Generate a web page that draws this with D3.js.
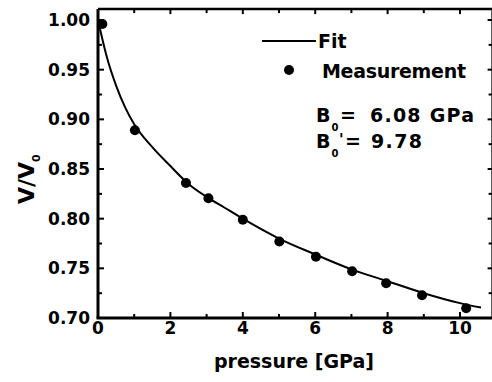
<!DOCTYPE html>
<html><head><meta charset="utf-8">
<script src="https://cdn.jsdelivr.net/npm/d3@7"></script>
<style>html,body{margin:0;padding:0;background:#fff;}svg{display:block;}text{font-family:"DejaVu Sans",sans-serif;font-weight:bold;fill:#000;}</style>
</head><body>
<svg id="c" width="492" height="382"></svg>
<script>
const measP = [0.12, 1.02, 2.43, 3.05, 4.0, 5.01, 6.02, 7.02, 7.96, 8.95, 10.17];
const measV = [0.996, 0.889, 0.836, 0.8205, 0.799, 0.777, 0.7617, 0.747, 0.735, 0.7229, 0.7098];
const fitP = [0, 0.1, 0.25, 0.5, 0.75, 1.0, 1.5, 2, 2.5, 3, 3.5, 4, 5, 6, 7, 8, 9, 10, 10.58];
const fitV = [1.000, 0.984, 0.962, 0.934, 0.912, 0.895, 0.872, 0.853, 0.835, 0.822, 0.811, 0.800, 0.780, 0.764, 0.749, 0.737, 0.725, 0.715, 0.7105];
const xMajor = [0, 2, 4, 6, 8, 10];
const yMajor = [0.70, 0.75, 0.80, 0.85, 0.90, 0.95, 1.00];
const xLabel = "pressure [GPa]";
const yLabel = "V/V";
const legendFit = "Fit", legendMeas = "Measurement";
const B0value = "6.08 GPa", B0pvalue = "9.78";

const svg = d3.select("#c");
const x = d3.scaleLinear().domain([0, 10.9]).range([98, 492.6]);
const y = d3.scaleLinear().domain([0.70, 1.011]).range([318, 9.1]);
const x0 = x.range()[0], x1 = x.range()[1], y0 = y.range()[0], y1 = y.range()[1];

// minor/major ticks
const xMinor = d3.range(0, 11, 1);
const yTicksAll = d3.range(0, 13).map(i => 0.70 + i * 0.025);
const g = svg.append("g").attr("stroke", "#000");
xMinor.forEach(v => {
  const major = v % 2 === 0;
  g.append("line").attr("x1", x(v)).attr("x2", x(v)).attr("y1", y0).attr("y2", y0 - (major ? 6 : 4)).attr("stroke-width", 2);
  g.append("line").attr("x1", x(v)).attr("x2", x(v)).attr("y1", y1).attr("y2", y1 + (major ? 5 : 4)).attr("stroke-width", 2);
});
yTicksAll.forEach((v, i) => {
  const major = i % 2 === 0;
  g.append("line").attr("x1", x0).attr("x2", x0 + (major ? 6 : 4)).attr("y1", y(v)).attr("y2", y(v)).attr("stroke-width", 2);
  g.append("line").attr("x1", x1).attr("x2", x1 - (major ? 5 : 4)).attr("y1", y(v)).attr("y2", y(v)).attr("stroke-width", 2);
});
// frame
g.append("line").attr("x1", x0 - 1.5).attr("x2", x1).attr("y1", y0).attr("y2", y0).attr("stroke-width", 3);
g.append("line").attr("x1", x0).attr("x2", x0).attr("y1", y0).attr("y2", y1).attr("stroke-width", 3);
g.append("line").attr("x1", x0).attr("x2", x1).attr("y1", y1).attr("y2", y1).attr("stroke-width", 2.5);
g.append("line").attr("x1", x1).attr("x2", x1).attr("y1", y0).attr("y2", y1).attr("stroke-width", 2.5);

// tick labels
svg.append("g").selectAll("text").data(xMajor).join("text")
  .attr("x", d => x(d)).attr("y", 334).attr("text-anchor", "middle")
  .attr("font-size", 17).text(d => d);
svg.append("g").selectAll("text").data(yMajor).join("text")
  .attr("x", 90).attr("y", d => y(d) + 6).attr("text-anchor", "end")
  .attr("font-size", 17).text(d => d.toFixed(2));

// axis titles
svg.append("text").attr("x", 294).attr("y", 368).attr("text-anchor", "middle")
  .attr("font-size", 19).text(xLabel);
const yl = svg.append("text").attr("transform", "translate(34,204) rotate(-90)")
  .attr("text-anchor", "start").attr("font-size", 22);
yl.append("tspan").text(yLabel);
yl.append("tspan").attr("font-size", 11).attr("dy", 6).text("0");

// fit line
const fitData = fitP.map((p, i) => [p, fitV[i]]);
svg.append("path").datum(fitData)
  .attr("d", d3.line().x(d => x(d[0])).y(d => y(d[1])).curve(d3.curveMonotoneX))
  .attr("fill", "none").attr("stroke", "#000").attr("stroke-width", 2);

// measurement points
svg.append("g").selectAll("circle").data(measP.map((p, i) => [p, measV[i]])).join("circle")
  .attr("cx", d => x(d[0])).attr("cy", d => y(d[1])).attr("r", 5).attr("fill", "#000");

// legend
svg.append("line").attr("x1", 262).attr("x2", 316).attr("y1", 41).attr("y2", 41).attr("stroke", "#000").attr("stroke-width", 2);
svg.append("text").attr("x", 318).attr("y", 48).attr("font-size", 19).text(legendFit);
svg.append("circle").attr("cx", 289).attr("cy", 70).attr("r", 5).attr("fill", "#000");
svg.append("text").attr("x", 322).attr("y", 78).attr("font-size", 19).attr("textLength", 144).text(legendMeas);

// parameters
svg.append("text").attr("x", 316).attr("y", 122).attr("font-size", 19).text("B");
svg.append("text").attr("x", 331.5).attr("y", 131).attr("font-size", 10).text("0");
svg.append("text").attr("x", 340).attr("y", 122).attr("font-size", 19).text("=");
svg.append("text").attr("x", 370).attr("y", 122).attr("font-size", 19).attr("textLength", 104).text(B0value);

svg.append("text").attr("x", 316).attr("y", 148).attr("font-size", 19).text("B");
svg.append("text").attr("x", 331.5).attr("y", 157).attr("font-size", 10).text("0");
svg.append("text").attr("x", 339).attr("y", 145).attr("font-size", 15).text("'");
svg.append("text").attr("x", 345).attr("y", 148).attr("font-size", 19).text("=");
svg.append("text").attr("x", 371).attr("y", 148).attr("font-size", 19).attr("textLength", 51).text(B0pvalue);
</script>
</body></html>
